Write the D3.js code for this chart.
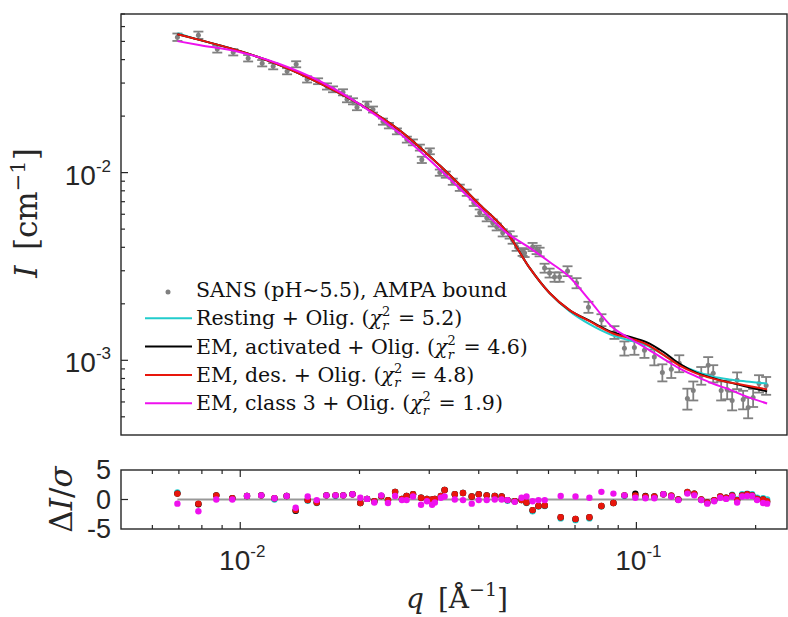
<!DOCTYPE html>
<html>
<head>
<meta charset="utf-8">
<script src="https://cdn.jsdelivr.net/npm/d3@7"></script>
<style>
  body { margin: 0; background: #fff; }
  svg { display: block; }
</style>
</head>
<body>
<svg id="chart" width="788" height="617"></svg>
<script>
// SANS data, q in 1/A, I in 1/cm
const qData = [0.00694, 0.00784, 0.00875, 0.0096, 0.01047, 0.01136, 0.01211, 0.01313, 0.01384, 0.01475,
  0.01572, 0.01656, 0.01715, 0.01817, 0.0186, 0.01926, 0.01971, 0.02089, 0.02163, 0.02292,
  0.02373, 0.02486, 0.02634, 0.02728, 0.02841, 0.02873, 0.0301, 0.0319, 0.03303, 0.0344,
  0.03583, 0.03731, 0.03886, 0.04023, 0.0419, 0.04338, 0.0444, 0.04598, 0.04787, 0.04871,
  0.04985, 0.05162, 0.05222, 0.0547, 0.05599, 0.05697, 0.05865, 0.06038, 0.06215, 0.06398,
  0.06702, 0.07063, 0.07569, 0.08162, 0.08803, 0.09328, 0.09886, 0.1048, 0.111, 0.1163,
  0.1225, 0.1283, 0.1345, 0.1392, 0.1458, 0.1518, 0.1563, 0.1637, 0.1695, 0.1745,
  0.1796, 0.186, 0.1915, 0.1971, 0.204, 0.2126];
const iData = [0.0527, 0.054, 0.0455, 0.0438, 0.0407, 0.0383, 0.0369, 0.0347, 0.0378, 0.0314,
  0.0307, 0.0288, 0.0278, 0.0268, 0.0246, 0.024, 0.0223, 0.0231, 0.0217, 0.0187,
  0.0178, 0.0166, 0.015, 0.0145, 0.0136, 0.0117, 0.013, 0.01, 0.00976, 0.00895,
  0.00831, 0.00782, 0.00691, 0.00611, 0.00574, 0.0054, 0.00514, 0.00478, 0.00466, 0.00438,
  0.00402, 0.00378, 0.00373, 0.00402, 0.00388, 0.00378, 0.0031, 0.00292, 0.00278, 0.00278,
  0.00299, 0.00258, 0.00192, 0.00164, 0.00141, 0.00116, 0.00117, 0.00113, 0.00104, 0.000862,
  0.000895, 0.000964, 0.000626, 0.000691, 0.000831, 0.00094, 0.000852, 0.000691, 0.0007, 0.000611,
  0.000782, 0.000618, 0.000561, 0.000634, 0.000753, 0.000735];
const iErr = [0.0024, 0.0024, 0.0019, 0.0017, 0.0016, 0.0015, 0.0014, 0.0013, 0.0014, 0.0012,
  0.0011, 0.0011, 0.001, 0.001, 0.0009, 0.0009, 0.0008, 0.0008, 0.0008, 0.0007,
  0.0006, 0.0006, 0.00055, 0.00052, 0.0005, 0.00045, 0.00047, 0.00038, 0.00037, 0.00034,
  0.00032, 0.0003, 0.00027, 0.00025, 0.00024, 0.00023, 0.00022, 0.00021, 0.00021, 0.0002,
  0.00019, 0.00018, 0.00018, 0.0002, 0.0002, 0.0002, 0.00017, 0.00016, 0.00016, 0.00016,
  0.00018, 0.00016, 0.00013, 0.00012, 0.00011, 0.0001, 0.0001, 0.0001, 0.0001, 0.00009,
  0.00009, 0.0001, 0.00008, 0.00008, 0.00009, 0.0001, 0.00009, 0.00008, 0.00008, 0.00007,
  0.00008, 0.00007, 0.00007, 0.00007, 0.00008, 0.00008];

// model curves
const qFit = [0.00694, 0.00793, 0.01, 0.01261, 0.0159, 0.02006, 0.02529, 0.0319, 0.04023, 0.04705,
  0.05377, 0.06038, 0.0678, 0.07613, 0.087, 0.09603, 0.106, 0.1176, 0.1283, 0.1416,
  0.1554, 0.1715, 0.1892, 0.2138];
const fitResting = [0.05537, 0.0508, 0.04437, 0.03735, 0.02992, 0.0231, 0.01677, 0.0109, 0.006745, 0.004836,
  0.003105, 0.002282, 0.001828, 0.001558, 0.00136, 0.001279, 0.001203, 0.001063, 0.000952, 0.000873,
  0.000821, 0.000791, 0.000772, 0.000753];
const fitActivated = [0.0547, 0.0508, 0.04437, 0.03735, 0.02992, 0.0231, 0.01677, 0.0109, 0.006745, 0.004836,
  0.003105, 0.002282, 0.001851, 0.001625, 0.00141, 0.001335, 0.00125, 0.0011, 0.00096, 0.00086,
  0.000806, 0.000763, 0.000726, 0.000683];
const fitDes = [0.0547, 0.0508, 0.04437, 0.03735, 0.02992, 0.0231, 0.01677, 0.0109, 0.006745, 0.004836,
  0.003105, 0.002282, 0.001851, 0.001616, 0.001394, 0.001311, 0.001218, 0.001063, 0.00094, 0.000852,
  0.000801, 0.000763, 0.000735, 0.0007];
const fitClass3 = [0.05018, 0.04777, 0.04383, 0.03781, 0.03067, 0.0231, 0.01617, 0.01038, 0.0065, 0.004776,
  0.003971, 0.003342, 0.002779, 0.002094, 0.001501, 0.001311, 0.001159, 0.001012, 0.000906, 0.000821,
  0.000753, 0.0007, 0.000642, 0.000589];

// normalised residuals
const qRes = [0.00694, 0.00784, 0.0087, 0.00955, 0.0104, 0.0113, 0.0122, 0.0131, 0.0138, 0.0148,
  0.0156, 0.0165, 0.0174, 0.0182, 0.0192, 0.0201, 0.0209, 0.0218, 0.0227, 0.0236,
  0.0246, 0.0256, 0.0263, 0.0273, 0.0286, 0.0296, 0.0305, 0.031, 0.0321, 0.0328,
  0.0348, 0.0365, 0.0384, 0.04, 0.0419, 0.0439, 0.0457, 0.0473, 0.0493, 0.0513,
  0.0528, 0.0547, 0.0566, 0.0587, 0.0644, 0.0702, 0.0761, 0.0816, 0.0875, 0.0933,
  0.0994, 0.1054, 0.111, 0.117, 0.1225, 0.1276, 0.1345, 0.14, 0.1458, 0.151,
  0.1572, 0.1628, 0.1685, 0.1745, 0.1796, 0.1849, 0.1904, 0.196, 0.2017, 0.2089, 0.2138];
const resResting = [1.2, -0.7, 0.7, 0.2, 0.6, 0.7, 0, 0.6, -1.9, -0.2,
  -0.6, 0.7, 0.6, 0.7, 0.9, -0.6, 0.1, -0.4, 0.6, -0.1,
  1.3, 0.1, 0.6, 0.9, 0.3, 0.1, -0.1, 0.1, 0.5, 1.6,
  0.9, 1.1, 0.5, 0.9, 0.7, 0.6, 0.5, -0.2, -0.3, -0.1,
  -0.6, -2.0, -1.2, -1.1, -3.2, -3.5, -3.2, -1.2, -0.6, 0.6,
  0.6, 0.4, 0.5, 0.9, 0.7, 0, 1.3, 1.0, -0.1, -0.6,
  -0.2, 0.4, 0.3, 0.8, 0, 0.9, 1.0, 0.9, 0.3, 0.2, 0];
const resActivated = [1.0, -0.8, 0.7, 0.2, 0.6, 0.7, 0.2, 0.6, -1.9, -0.1,
  -0.5, 0.7, 0.7, 0.7, 0.9, -0.6, 0.1, -0.3, 0.6, -0.1,
  1.3, 0.1, 0.6, 0.9, 0.3, 0.1, 0, 0.1, 0.6, 1.6,
  0.9, 1.1, 0.5, 0.9, 0.7, 0.6, 0.5, -0.1, -0.3, -0.1,
  -0.5, -1.8, -1.1, -1.0, -3.0, -3.3, -3.0, -1.1, -0.6, 0.7,
  1.0, 0.6, 0.5, 0.9, 0.6, 0, 1.2, 1.0, 0, -0.5,
  -0.1, 0.5, 0.3, 0.7, -0.1, 0.7, 0.9, 0.7, 0.1, 0, -0.4];
const resDes = [1.0, -0.7, 0.7, 0.2, 0.6, 0.7, 0.2, 0.6, -1.8, -0.1,
  -0.5, 0.7, 0.7, 0.7, 0.9, -0.6, 0.1, -0.3, 0.6, -0.1,
  1.3, 0.1, 0.6, 0.9, 0.3, 0.1, 0, 0.1, 0.6, 1.6,
  0.9, 1.1, 0.5, 0.9, 0.7, 0.6, 0.5, -0.1, -0.3, -0.1,
  -0.5, -1.8, -1.1, -1.0, -3.0, -3.3, -3.0, -1.1, -0.6, 0.7,
  0.7, 0.5, 0.5, 0.9, 0.7, 0, 1.3, 1.0, 0, -0.5,
  -0.1, 0.5, 0.3, 0.7, -0.1, 0.7, 0.9, 0.7, 0.1, 0, -0.3];
const resClass3 = [-0.7, -2.0, 0, 0, 0.6, 0.7, 0.2, 0.6, -1.4, 0.5,
  -0.1, 0.7, 0.7, 0.7, 0.9, 0.3, 0.1, -0.5, 0.7, -0.6,
  0.6, -0.1, -0.1, 0.5, -0.9, -0.3, -0.9, -0.5, 0.3, 0.5,
  0, -0.1, -0.7, -0.1, -0.1, 0, 0, -0.1, -0.4, 0.3,
  0.5, -0.3, -0.1, -0.1, 0.6, 0.5, 0.3, 1.3, 1.0, 0.7,
  0.3, 0.2, 0.2, 0.9, 0.5, -0.1, 1.0, 0.7, -0.1, -0.7,
  -0.3, 0.3, 0.1, 0.5, -0.5, 0.5, 0.6, 0.6, -0.1, -0.6, -0.7];

// legend text
const dataLabel = "SANS (pH\u223C5.5), AMPA bound";
const modelLabels = ["Resting + Olig.", "EM, activated + Olig.", "EM, des. + Olig.", "EM, class 3 + Olig."];
const chiValues = ["5.2", "4.6", "4.8", "1.9"];

const models = [
  { fit: fitResting, res: resResting, color: "#22cccc" },
  { fit: fitActivated, res: resActivated, color: "#000000" },
  { fit: fitDes, res: resDes, color: "#e8160c" },
  { fit: fitClass3, res: resClass3, color: "#ee11ee" }
];

const svg = d3.select("#chart");
const axisColor = "#262626";
const tickFont = "Liberation Sans";
const mathFont = "DejaVu Serif";

const plotLeft = 121, plotRight = 787, plotTop = 14, mainBottom = 435;
const resTop = 470, resBottom = 529;

const x = d3.scaleLog().domain([0.005, 0.24]).range([plotLeft, plotRight]);
const y = d3.scaleLog().domain([0.0004, 0.07]).range([mainBottom, plotTop]);
const yRes = d3.scaleLinear().domain([-5, 5]).range([resBottom, resTop]);

const isMajor = v => Math.abs(Math.log10(v) - Math.round(Math.log10(v))) < 1e-6;

function powLabel(text, exp) {
  text.append("tspan").text("10");
  text.append("tspan").attr("dy", -13).style("font-size", "17px").text(exp);
}

// ---------- main panel ----------
const main = svg.append("g").attr("class", "main");

// error bars
const bars = main.append("g")
  .attr("stroke", "#808080")
  .attr("stroke-width", 1.8);
qData.forEach((q, i) => {
  const cx = x(q), y1 = y(iData[i] + iErr[i]), y2 = y(iData[i] - iErr[i]);
  bars.append("line").attr("x1", cx).attr("x2", cx).attr("y1", y1).attr("y2", y2);
  bars.append("line").attr("x1", cx - 5).attr("x2", cx + 5).attr("y1", y1).attr("y2", y1);
  bars.append("line").attr("x1", cx - 5).attr("x2", cx + 5).attr("y1", y2).attr("y2", y2);
});
main.append("g").selectAll("circle")
  .data(qData)
  .join("circle")
  .attr("cx", d => x(d))
  .attr("cy", (d, i) => y(iData[i]))
  .attr("r", 2.5)
  .attr("fill", "#808080");

// model curves
const line = d3.line()
  .x(d => x(d[0]))
  .y(d => y(d[1]))
  .curve(d3.curveMonotoneX);

models.forEach(m => {
  main.append("path")
    .datum(qFit.map((q, i) => [q, m.fit[i]]))
    .attr("d", line)
    .attr("fill", "none")
    .attr("stroke", m.color)
    .attr("stroke-width", 2);
});

// frame
main.append("rect")
  .attr("x", plotLeft).attr("y", plotTop)
  .attr("width", plotRight - plotLeft).attr("height", mainBottom - plotTop)
  .attr("fill", "none")
  .attr("stroke", axisColor)
  .attr("stroke-width", 1.4);

// y ticks (inward, left side only)
const yTicks = y.ticks().filter(v => v > 0.0004);
main.append("g").selectAll("line")
  .data(yTicks)
  .join("line")
  .attr("x1", plotLeft)
  .attr("x2", d => plotLeft + (isMajor(d) ? 7 : 4))
  .attr("y1", d => y(d))
  .attr("y2", d => y(d))
  .attr("stroke", axisColor)
  .attr("stroke-width", 1.2);

yTicks.filter(isMajor).forEach(v => {
  const t = main.append("text")
    .attr("x", 111)
    .attr("y", y(v) + 12)
    .attr("text-anchor", "end")
    .style("font-family", tickFont)
    .style("font-size", "28px")
    .style("fill", axisColor);
  powLabel(t, String(Math.round(Math.log10(v))));
});

// y label: I [cm^-1]
const yLab = main.append("text")
  .attr("transform", "translate(37, 213) rotate(-90)")
  .attr("text-anchor", "middle")
  .style("font-family", mathFont)
  .style("font-size", "31px")
  .style("fill", axisColor);
yLab.append("tspan").style("font-style", "italic").text("I");
yLab.append("tspan").text("\u2002[cm");
yLab.append("tspan").attr("dy", -12).style("font-size", "21px").text("\u22121");
yLab.append("tspan").attr("dy", 12).text("]");

// legend
const legend = main.append("g").attr("class", "legend");
const rowY = i => 290 + i * 28.3;

legend.append("circle")
  .attr("cx", 168).attr("cy", rowY(0) + 2)
  .attr("r", 2.5)
  .attr("fill", "#808080");
legend.append("text")
  .attr("x", 196).attr("y", rowY(0) + 7)
  .style("font-family", mathFont)
  .style("font-size", "20.5px")
  .style("fill", "#111")
  .text(dataLabel);

modelLabels.forEach((label, i) => {
  const cy = rowY(i + 1);
  legend.append("line")
    .attr("x1", 145).attr("x2", 192)
    .attr("y1", cy).attr("y2", cy)
    .attr("stroke", models[i].color)
    .attr("stroke-width", 2);
  const t = legend.append("text")
    .attr("x", 196).attr("y", cy + 7)
    .style("font-family", mathFont)
    .style("font-size", "20.5px")
    .style("fill", "#111");
  t.append("tspan").text(label + " (");
  t.append("tspan").style("font-style", "italic").text("\u03C7");
  t.append("tspan").attr("dy", -9).style("font-size", "13px").text("2");
  t.append("tspan").attr("dx", -8).attr("dy", 14)
    .style("font-size", "13px").style("font-style", "italic").text("r");
  t.append("tspan").attr("dx", 3).attr("dy", -5).text(" = " + chiValues[i] + ")");
});

// ---------- residual panel ----------
const res = svg.append("g").attr("class", "residuals");

res.append("line")
  .attr("x1", x(qRes[0])).attr("x2", x(qRes[qRes.length - 1]))
  .attr("y1", yRes(0)).attr("y2", yRes(0))
  .attr("stroke", "#999")
  .attr("stroke-width", 2);

models.forEach(m => {
  res.append("g").selectAll("circle")
    .data(qRes)
    .join("circle")
    .attr("cx", d => x(d))
    .attr("cy", (d, i) => yRes(m.res[i]))
    .attr("r", 3.2)
    .attr("fill", m.color);
});

res.append("rect")
  .attr("x", plotLeft).attr("y", resTop)
  .attr("width", plotRight - plotLeft).attr("height", resBottom - resTop)
  .attr("fill", "none")
  .attr("stroke", axisColor)
  .attr("stroke-width", 1.4);

// x ticks on top and bottom, pointing inward
const xTicks = x.ticks().filter(v => v > 0.0051 && v < 0.24);
const xt = res.append("g")
  .attr("stroke", axisColor)
  .attr("stroke-width", 1.2);
xTicks.forEach(v => {
  const len = isMajor(v) ? 7 : 4;
  xt.append("line").attr("x1", x(v)).attr("x2", x(v)).attr("y1", resTop).attr("y2", resTop + len);
  xt.append("line").attr("x1", x(v)).attr("x2", x(v)).attr("y1", resBottom).attr("y2", resBottom - len);
});
xt.append("line").attr("x1", plotLeft).attr("x2", plotLeft + 7).attr("y1", yRes(0)).attr("y2", yRes(0));

xTicks.filter(isMajor).forEach(v => {
  const t = res.append("text")
    .attr("x", x(v) + 2)
    .attr("y", 570)
    .attr("text-anchor", "middle")
    .style("font-family", tickFont)
    .style("font-size", "28px")
    .style("fill", axisColor);
  powLabel(t, String(Math.round(Math.log10(v))));
});

// residual y tick labels
res.selectAll(".ylab")
  .data([5, 0, -5])
  .join("text")
  .attr("class", "ylab")
  .attr("x", 111)
  .attr("y", d => yRes(d) + 9)
  .attr("text-anchor", "end")
  .style("font-family", tickFont)
  .style("font-size", "27px")
  .style("fill", axisColor)
  .text(d => d);

// residual y label: ΔI/σ
const rLab = res.append("text")
  .attr("transform", `translate(72, ${yRes(0)}) rotate(-90)`)
  .attr("text-anchor", "middle")
  .style("font-family", mathFont)
  .style("font-size", "31px")
  .style("fill", axisColor);
rLab.append("tspan").text("\u0394");
rLab.append("tspan").style("font-style", "italic").text("I");
rLab.append("tspan").text("/");
rLab.append("tspan").style("font-style", "italic").text("\u03C3");

// x label: q [Å^-1]
const xLab = res.append("text")
  .attr("x", 457)
  .attr("y", 608)
  .attr("text-anchor", "middle")
  .style("font-family", mathFont)
  .style("font-size", "28px")
  .style("fill", axisColor);
xLab.append("tspan").style("font-style", "italic").text("q");
xLab.append("tspan").text("\u2002[\u00C5");
xLab.append("tspan").attr("dy", -12).style("font-size", "19px").text("\u22121");
xLab.append("tspan").attr("dy", 12).text("]");
</script>
</body>
</html>
